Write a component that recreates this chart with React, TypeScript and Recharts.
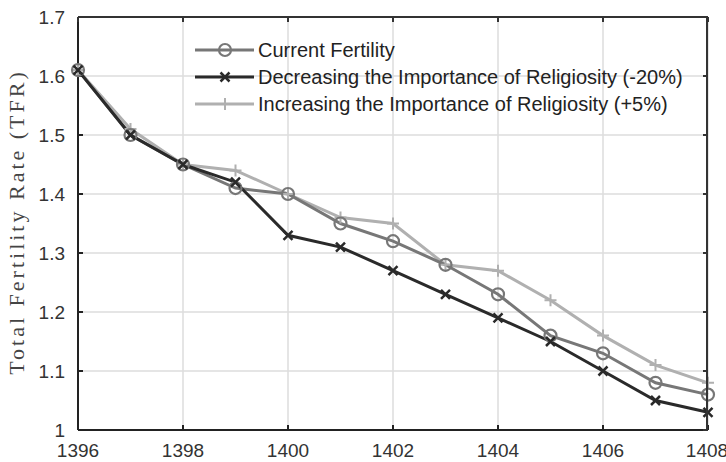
import React from 'react';
import { LineChart, Line, XAxis, YAxis, CartesianGrid } from 'recharts';

const years = [1396, 1397, 1398, 1399, 1400, 1401, 1402, 1403, 1404, 1405, 1406, 1407, 1408];
const currentFertility = [1.61, 1.5, 1.45, 1.41, 1.4, 1.35, 1.32, 1.28, 1.23, 1.16, 1.13, 1.08, 1.06];
const decreasingReligiosity = [1.61, 1.5, 1.45, 1.42, 1.33, 1.31, 1.27, 1.23, 1.19, 1.15, 1.1, 1.05, 1.03];
const increasingReligiosity = [1.61, 1.51, 1.45, 1.44, 1.4, 1.36, 1.35, 1.28, 1.27, 1.22, 1.16, 1.11, 1.08];

const xTicks = [1396, 1398, 1400, 1402, 1404, 1406, 1408];
const yTicks = [1, 1.1, 1.2, 1.3, 1.4, 1.5, 1.6, 1.7];

const seriesNames = [
  'Current Fertility',
  'Decreasing the Importance of Religiosity (-20%)',
  'Increasing the Importance of Religiosity (+5%)',
];

const data = years.map((year, i) => ({
  year,
  current: currentFertility[i],
  decreasing: decreasingReligiosity[i],
  increasing: increasingReligiosity[i],
}));

const C_CURRENT = '#777777';
const C_DECREASE = '#2a2a2a';
const C_INCREASE = '#b0b0b0';
const C_FRAME = '#333';

// chart layout
const W = 726;
const H = 462;
const M = { top: 17, right: 18, bottom: 0, left: 0 };
const Y_AXIS_W = 78;
const X_AXIS_H = 32;
const plotL = M.left + Y_AXIS_W;
const plotR = W - M.right;
const plotT = M.top;
const plotB = H - M.bottom - X_AXIS_H;

const circleMark = (cx: number, cy: number, color: string, key?: any) => (
  <circle key={key} cx={cx} cy={cy} r={6} fill="none" stroke={color} strokeWidth={2.2} />
);
const xMark = (cx: number, cy: number, color: string, key?: any) => (
  <path key={key} d={`M${cx - 4.5},${cy - 4.5}L${cx + 4.5},${cy + 4.5}M${cx - 4.5},${cy + 4.5}L${cx + 4.5},${cy - 4.5}`} stroke={color} strokeWidth={2.5} fill="none" />
);
const plusMark = (cx: number, cy: number, color: string, key?: any) => (
  <path key={key} d={`M${cx - 6},${cy}L${cx + 6},${cy}M${cx},${cy - 6}L${cx},${cy + 6}`} stroke={color} strokeWidth={2} fill="none" />
);

const legendItems = [
  { name: seriesNames[0], color: C_CURRENT, mark: circleMark },
  { name: seriesNames[1], color: C_DECREASE, mark: xMark },
  { name: seriesNames[2], color: C_INCREASE, mark: plusMark },
];

const tickStyle = { fill: '#333', fontSize: 19, fontFamily: 'Liberation Sans, Arial, sans-serif' };

export default function App() {
  const xFrac = (t: number) => (t - xTicks[0]) / (xTicks[xTicks.length - 1] - xTicks[0]);
  const yFrac = (t: number) => (t - yTicks[0]) / (yTicks[yTicks.length - 1] - yTicks[0]);
  return (
    <div style={{ position: 'absolute', left: 0, top: 0, width: W, height: H, background: '#fff' }}>
      <LineChart width={W} height={H} data={data} margin={M}>
        <CartesianGrid stroke="#dcdcdc" strokeWidth={1.5} />
        <XAxis
          dataKey="year"
          type="number"
          domain={[1396, 1408]}
          ticks={xTicks}
          height={X_AXIS_H}
          tickSize={-5}
          tickMargin={19}
          tick={tickStyle}
          axisLine={{ stroke: '#222', strokeWidth: 2 }}
          tickLine={{ stroke: '#222', strokeWidth: 2 }}
        />
        <YAxis
          type="number"
          domain={[1, 1.7]}
          ticks={yTicks}
          width={Y_AXIS_W}
          tickSize={-5}
          tickMargin={18}
          tick={tickStyle}
          axisLine={{ stroke: '#222', strokeWidth: 2 }}
          tickLine={{ stroke: '#222', strokeWidth: 2 }}
        />
        <Line
          dataKey="increasing"
          stroke={C_INCREASE}
          strokeWidth={3}
          isAnimationActive={false}
          dot={(p: any) => plusMark(p.cx, p.cy, C_INCREASE, p.index)}
        />
        <Line
          dataKey="current"
          stroke={C_CURRENT}
          strokeWidth={3}
          isAnimationActive={false}
          dot={(p: any) => circleMark(p.cx, p.cy, C_CURRENT, p.index)}
        />
        <Line
          dataKey="decreasing"
          stroke={C_DECREASE}
          strokeWidth={3}
          isAnimationActive={false}
          dot={(p: any) => xMark(p.cx, p.cy, C_DECREASE, p.index)}
        />
      </LineChart>
      {/* box: top and right edges as a CSS border */}
      <div
        style={{
          position: 'absolute',
          left: plotL,
          top: plotT - 1,
          width: plotR - plotL,
          height: plotB - plotT,
          borderTop: `2px solid ${C_FRAME}`,
          borderRight: `2px solid ${C_FRAME}`,
          boxSizing: 'border-box',
          pointerEvents: 'none',
        }}
      />
      <svg width={W} height={H} style={{ position: 'absolute', left: 0, top: 0, pointerEvents: 'none' }}>
        {xTicks.map((t) => {
          const x = plotL + xFrac(t) * (plotR - plotL);
          return <line key={`tx${t}`} x1={x} x2={x} y1={plotT} y2={plotT + 5} stroke={C_FRAME} strokeWidth={2} />;
        })}
        {yTicks.map((t) => {
          const y = plotB - yFrac(t) * (plotB - plotT);
          return <line key={`ty${t}`} x1={plotR - 5} x2={plotR} y1={y} y2={y} stroke={C_FRAME} strokeWidth={2} />;
        })}
        <text
          x={16}
          y={222}
          transform="rotate(-90 16 222)"
          textAnchor="middle"
          dominantBaseline="central"
          fontFamily="Liberation Serif, Times New Roman, serif"
          fontSize={22}
          letterSpacing={3}
          fill="#444"
        >
          Total Fertility Rate (TFR)
        </text>
        {legendItems.map((item, i) => {
          const y = 50 + i * 27;
          return (
            <g key={item.name}>
              <line x1={195} x2={254} y1={y} y2={y} stroke={item.color} strokeWidth={3} />
              {item.mark(225, y, item.color)}
              <text
                x={258}
                y={y}
                dominantBaseline="central"
                fontFamily="Liberation Sans, Arial, sans-serif"
                fontSize={20}
                fill="#222"
              >
                {item.name}
              </text>
            </g>
          );
        })}
      </svg>
    </div>
  );
}
